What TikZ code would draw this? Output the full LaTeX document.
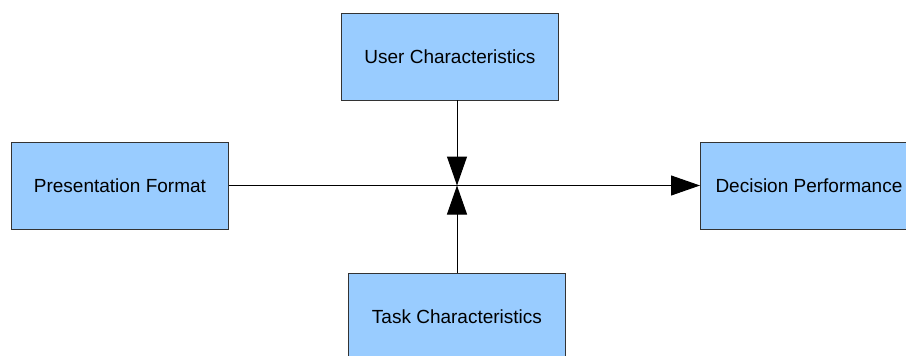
\documentclass[tikz,border=0pt]{standalone}
\usepackage{fontspec}
\setmainfont{Liberation Sans}
\usetikzlibrary{arrows.meta}
\definecolor{boxfill}{HTML}{99CCFF}
\definecolor{boxline}{HTML}{333333}
\tikzset{
  factor/.style={draw=boxline, line width=0.9pt, fill=boxfill, minimum width=217pt,
    minimum height=87pt, inner sep=0pt, font=\fontsize{19}{22}\selectfont, anchor=north west},
  link/.style={line width=1pt, -{Triangle[length=29pt, width=20pt]}},
  plain/.style={line width=1pt}
}
\begin{document}
\begin{tikzpicture}[x=1pt, y=-1pt]
  \useasboundingbox (0,0) rectangle (906,356);
  \node[factor] (user) at (341,12.5) {User Characteristics};
  \node[factor] (pres) at (11,142) {Presentation Format};
  \node[factor] (dec) at (700,142) {Decision Performance};
  \node[factor] (task) at (348,273) {Task Characteristics};
  \coordinate (hub) at (457,185.5);
  \draw[link] (pres.east |- hub) -- (dec.west |- hub);
  \draw[link] (hub |- user.south) -- (hub);
  \draw[link] (hub |- task.north) -- (hub);
\end{tikzpicture}
\end{document}
